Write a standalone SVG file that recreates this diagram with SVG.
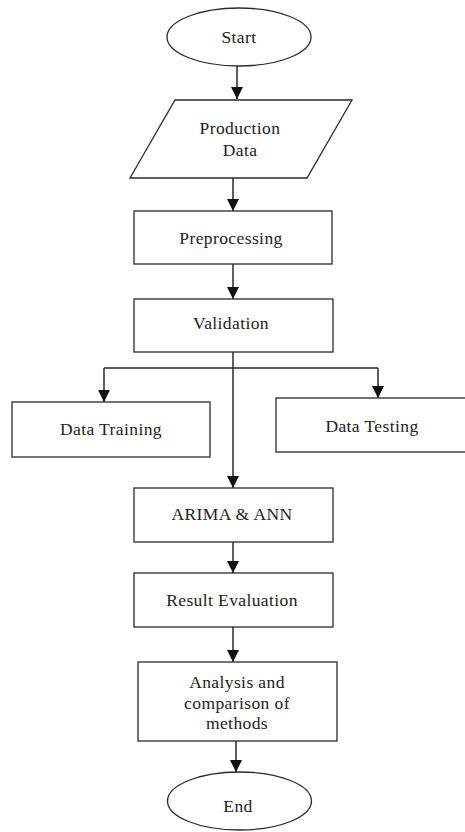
<svg xmlns="http://www.w3.org/2000/svg" width="465" height="832" viewBox="0 0 465 832">
<style>
.s{fill:#fff;stroke:#2a2a2a;stroke-width:1.3}
.t{font-family:"Liberation Serif","Times New Roman",serif;font-size:17.5px;letter-spacing:0.4px;fill:#222;text-anchor:middle;dominant-baseline:central}
.c{fill:none;stroke:#2a2a2a;stroke-width:1.5}
</style>
<defs>
<marker id="ah" markerUnits="userSpaceOnUse" markerWidth="12" markerHeight="13" refX="12" refY="6" orient="auto" viewBox="0 0 12 12">
<path d="M0,0 L12,6 L0,12 z" fill="#111"/>
</marker>
</defs>
<rect width="465" height="832" fill="#fff"/>
<g id="connectors">
<line class="c" x1="237" y1="66" x2="237" y2="99" marker-end="url(#ah)"/>
<line class="c" x1="233" y1="178" x2="233" y2="211" marker-end="url(#ah)"/>
<line class="c" x1="233" y1="264" x2="233" y2="299" marker-end="url(#ah)"/>
<line class="c" x1="233" y1="352" x2="233" y2="488" marker-end="url(#ah)"/>
<line class="c" x1="104" y1="368" x2="378" y2="368"/>
<line class="c" x1="104" y1="368" x2="104" y2="402" marker-end="url(#ah)"/>
<line class="c" x1="378" y1="368" x2="378" y2="398" marker-end="url(#ah)"/>
<line class="c" x1="233" y1="542" x2="233" y2="573" marker-end="url(#ah)"/>
<line class="c" x1="233" y1="627" x2="233" y2="662" marker-end="url(#ah)"/>
<line class="c" x1="236" y1="741" x2="236" y2="772" marker-end="url(#ah)"/>
</g>
<g id="start">
<ellipse class="s" cx="239" cy="37" rx="72" ry="29"/>
<text class="t" x="239" y="37">Start</text>
</g>
<g id="production-data">
<polygon class="s" points="175,100 352,100 307,178 130,178"/>
<text class="t" x="240" y="128">Production</text>
<text class="t" x="240" y="150">Data</text>
</g>
<g id="preprocessing">
<rect class="s" x="134" y="211" width="198" height="53"/>
<text class="t" x="231" y="238">Preprocessing</text>
</g>
<g id="validation">
<rect class="s" x="134" y="299" width="199" height="53"/>
<text class="t" x="231" y="323">Validation</text>
</g>
<g id="data-training">
<rect class="s" x="12" y="402" width="198" height="55"/>
<text class="t" x="111" y="429">Data Training</text>
</g>
<g id="data-testing">
<rect class="s" x="276" y="398" width="190" height="54"/>
<text class="t" x="372" y="426">Data Testing</text>
</g>
<g id="arima-ann">
<rect class="s" x="134" y="488" width="199" height="54"/>
<text class="t" x="232" y="514">ARIMA &amp; ANN</text>
</g>
<g id="result-evaluation">
<rect class="s" x="134" y="573" width="199" height="54"/>
<text class="t" x="232" y="600">Result Evaluation</text>
</g>
<g id="analysis">
<rect class="s" x="138" y="662" width="199" height="79"/>
<text class="t" x="237" y="682">Analysis and</text>
<text class="t" x="237" y="703">comparison of</text>
<text class="t" x="237" y="723">methods</text>
</g>
<g id="end">
<ellipse class="s" cx="239.5" cy="801" rx="72" ry="29"/>
<text class="t" x="238" y="806">End</text>
</g>
</svg>
